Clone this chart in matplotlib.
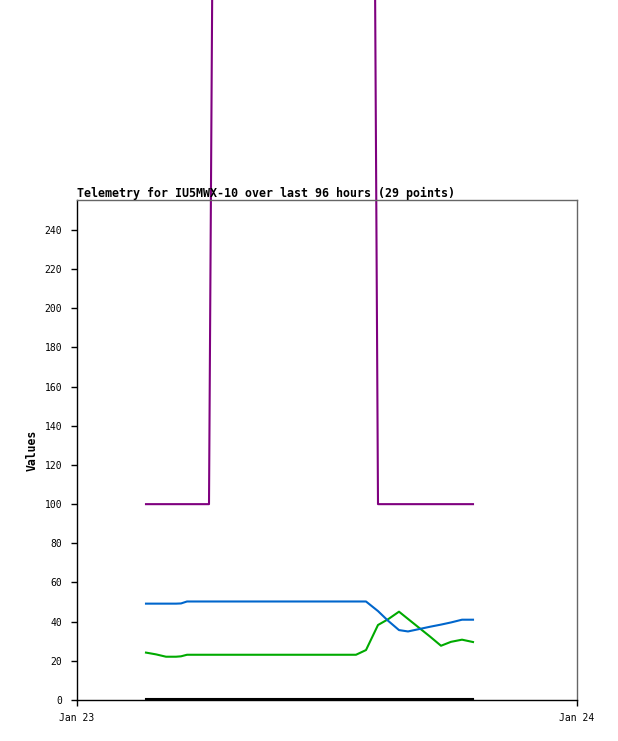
import matplotlib
matplotlib.use("Agg")
import matplotlib.pyplot as plt

# hours after Jan 23 00:00
hours = [3.312, 3.792, 4.272, 4.752, 4.992, 5.28, 5.808, 6.336, 6.912, 7.632,
         8.352, 9.072, 9.792, 10.512, 11.232, 11.952, 12.672, 13.392, 13.872,
         14.448, 14.928, 15.456, 15.888, 16.416, 16.944, 17.472, 17.952, 18.48, 19.008]

purple_vals = [100, 100, 100, 100, 100, 100, 100, 100, 1080, 1090,
               1100, 1110, 1120, 1130, 1140, 1150, 1160, 1170, 1180,
               100, 100, 100, 100, 100, 100, 100, 100, 100, 100]
blue_vals = [49.2, 49.2, 49.2, 49.2, 49.3, 50.3, 50.3, 50.3, 50.3, 50.3,
             50.3, 50.3, 50.3, 50.3, 50.3, 50.3, 50.3, 50.3, 50.3,
             45.4, 40.5, 35.7, 35.0, 36.2, 37.4, 38.5, 39.6, 41.0, 41.0]
green_vals = [24.2, 23.3, 22.1, 22.1, 22.3, 23.1, 23.1, 23.1, 23.1, 23.1,
              23.1, 23.1, 23.1, 23.1, 23.1, 23.1, 23.1, 23.1, 25.5,
              38.3, 41.2, 45.1, 41.4, 36.9, 32.4, 27.7, 29.7, 30.8, 29.6]
black_vals = [0.4] * 29

x_tick_pos = [0, 24]
x_tick_labels = ["Jan 23", "Jan 24"]
y_ticks = list(range(0, 241, 20))

mono = ["DejaVu Sans Mono"]

fig = plt.figure(figsize=(6.18, 7.41), dpi=100)
W, H = 618, 741
ax = fig.add_axes([77 / W, (H - 700) / H, 500 / W, 500 / H])

for vals, col in [(black_vals, "#000000"), (purple_vals, "#7f007f"),
                  (green_vals, "#00aa00"), (blue_vals, "#0066cc")]:
    ax.plot(hours, vals, color=col, lw=1.5, clip_on=False, antialiased=True)

ax.set_xlim(0, 24)
ax.set_ylim(0, 255.3)
ax.set_xticks(x_tick_pos)
ax.set_xticklabels(x_tick_labels, fontsize=7, family=mono)
ax.set_yticks(y_ticks)
ax.set_yticklabels([str(v) for v in y_ticks], fontsize=7, family=mono)
ax.tick_params(axis="both", direction="out", length=4.3, width=1, color="black")
ax.tick_params(axis="y", pad=6.5)
ax.tick_params(axis="x", pad=5)

for s in ["left", "bottom"]:
    ax.spines[s].set_color("black")
    ax.spines[s].set_linewidth(1)
for s in ["top", "right"]:
    ax.spines[s].set_color("#666666")
    ax.spines[s].set_linewidth(1)

ax.set_title("Telemetry for IU5MWX-10 over last 96 hours (29 points)", loc="left",
             fontsize=8.35, family=mono, fontweight="bold", pad=2)
ax.set_ylabel("Values", fontsize=8.3, family=mono, fontweight="bold", labelpad=4)

fig.savefig("out.png", dpi=100)
